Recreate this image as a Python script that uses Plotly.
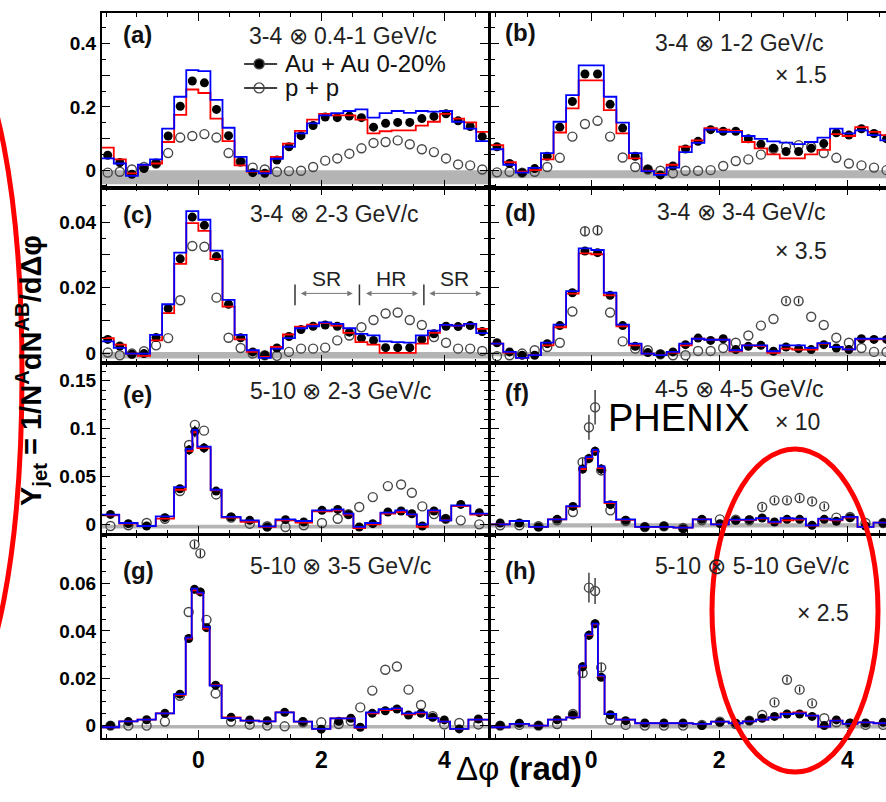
import numpy as np
import plotly.graph_objects as go

W, H = 886, 802
PI = np.pi
FONT = "Liberation Sans, Arial, Helvetica, sans-serif"

# ---------------- bin edges (rad) ----------------
edges_ad = [-PI / 2 + k * PI / 16 for k in range(33)]
edges_e = [-1.571, -1.286, -0.989, -0.692, -0.395, -0.205, -0.097, -0.016, 0.200, 0.378,
           0.686, 0.984, 1.254, 1.578, 1.849, 2.170, 2.360, 2.520, 2.710, 2.960,
           3.200, 3.390, 3.550, 3.730, 3.930, 4.110, 4.420, 4.712]
edges_fh = [-1.571, -1.274, -0.972, -0.676, -0.390, -0.182, -0.088, 0.016, 0.104, 0.208,
            0.390, 0.686, 0.988, 1.284, 1.586, 1.872, 2.148, 2.366, 2.574, 2.767,
            2.959, 3.157, 3.354, 3.547, 3.734, 3.926, 4.160, 4.410, 4.712]
edges_g = [-1.571, -1.286, -0.989, -0.692, -0.395, -0.205, -0.108, -0.016, 0.081, 0.184,
           0.378, 0.686, 0.984, 1.254, 1.551, 1.849, 2.146, 2.416, 2.540, 2.724,
           2.930, 3.146, 3.308, 3.524, 3.714, 3.903, 4.092, 4.389, 4.712]

# ---------------- (a) 3-4 x 0.4-1 GeV/c ----------------
auau_a = [0.047, 0.024, -0.013, 0.005, 0.021, 0.108, 0.202, 0.282, 0.276, 0.192, 0.109, 0.027,
          -0.008, -0.010, 0.032, 0.074, 0.109, 0.141, 0.168, 0.166, 0.171, 0.166, 0.136, 0.148,
          0.151, 0.151, 0.163, 0.170, 0.178, 0.156, 0.138, 0.106]
red_a = [0.071, 0.034, -0.010, 0.016, 0.021, 0.089, 0.175, 0.255, 0.244, 0.163, 0.092, 0.015,
         -0.005, -0.005, 0.042, 0.084, 0.124, 0.160, 0.178, 0.173, 0.173, 0.160, 0.116, 0.123,
         0.126, 0.126, 0.141, 0.153, 0.178, 0.163, 0.151, 0.121]
blue_a = [0.037, 0.021, -0.018, 0.017, 0.034, 0.131, 0.232, 0.316, 0.313, 0.222, 0.134, 0.042,
          -0.003, -0.010, 0.036, 0.074, 0.116, 0.148, 0.173, 0.180, 0.187, 0.192, 0.166, 0.180,
          0.187, 0.181, 0.187, 0.185, 0.187, 0.153, 0.131, 0.092]
pp_a = [-0.008, -0.005, 0.002, 0.010, 0.021, 0.054, 0.103, 0.108, 0.114, 0.103, 0.054, 0.027,
        0.008, 0.002, -0.005, -0.003, -0.002, 0.010, 0.030, 0.037, 0.052, 0.069, 0.086, 0.089,
        0.094, 0.082, 0.066, 0.057, 0.037, 0.018, 0.015, 0.002]

# ---------------- (b) 3-4 x 1-2 GeV/c (x1.5) ----------------
auau_b = [0.074, 0.021, -0.008, 0.005, 0.044, 0.136, 0.217, 0.304, 0.304, 0.208, 0.133, 0.044,
          0.003, -0.015, 0.013, 0.067, 0.091, 0.128, 0.123, 0.123, 0.099, 0.082, 0.069, 0.059,
          0.059, 0.069, 0.084, 0.118, 0.111, 0.131, 0.116, 0.099]
red_b = [0.079, 0.025, -0.005, 0.000, 0.034, 0.119, 0.195, 0.284, 0.284, 0.190, 0.116, 0.037,
         -0.002, -0.012, 0.017, 0.074, 0.094, 0.133, 0.128, 0.124, 0.089, 0.069, 0.050, 0.037,
         0.037, 0.050, 0.064, 0.114, 0.108, 0.136, 0.121, 0.111]
blue_b = [0.066, 0.017, -0.008, 0.007, 0.054, 0.153, 0.237, 0.331, 0.331, 0.232, 0.150, 0.054,
          -0.003, -0.015, 0.008, 0.057, 0.086, 0.128, 0.121, 0.121, 0.108, 0.099, 0.091, 0.087,
          0.082, 0.089, 0.103, 0.131, 0.116, 0.126, 0.111, 0.094]
pp_b = [-0.007, -0.005, -0.008, -0.005, 0.010, 0.039, 0.106, 0.146, 0.156, 0.106, 0.040, 0.010,
        0.002, -0.002, -0.010, -0.002, -0.002, 0.000, 0.013, 0.029, 0.034, 0.049, 0.067, 0.074,
        0.079, 0.074, 0.054, 0.039, 0.021, 0.015, 0.008, 0.000]

# ---------------- (c) 3-4 x 2-3 GeV/c ----------------
auau_c = [0.0043, 0.0023, -0.0002, 0.0000, 0.0049, 0.0137, 0.0288, 0.0415, 0.0390, 0.0295, 0.0150,
          0.0048, 0.0005, -0.0005, 0.0017, 0.0052, 0.0073, 0.0083, 0.0087, 0.0083, 0.0065, 0.0047,
          0.0040, 0.0018, 0.0018, 0.0018, 0.0043, 0.0060, 0.0083, 0.0082, 0.0085, 0.0067]
red_c = [0.0047, 0.0027, 0.0000, -0.0007, 0.0040, 0.0123, 0.0273, 0.0397, 0.0373, 0.0287, 0.0143,
         0.0043, 0.0005, -0.0010, 0.0020, 0.0058, 0.0082, 0.0088, 0.0093, 0.0085, 0.0063, 0.0035,
         0.0027, 0.0002, 0.0002, 0.0002, 0.0030, 0.0063, 0.0087, 0.0085, 0.0090, 0.0075]
blue_c = [0.0037, 0.0017, 0.0000, 0.0000, 0.0057, 0.0150, 0.0307, 0.0433, 0.0407, 0.0313, 0.0163,
          0.0057, 0.0010, -0.0013, 0.0015, 0.0047, 0.0077, 0.0083, 0.0095, 0.0090, 0.0077, 0.0060,
          0.0055, 0.0037, 0.0035, 0.0033, 0.0055, 0.0070, 0.0087, 0.0085, 0.0090, 0.0062]
pp_c = [0.0003, -0.0005, 0.0000, 0.0007, 0.0025, 0.0047, 0.0162, 0.0327, 0.0325, 0.0170, 0.0048,
        0.0017, 0.0000, -0.0005, -0.0007, 0.0005, 0.0015, 0.0015, 0.0018, 0.0040, 0.0055, 0.0080,
        0.0102, 0.0122, 0.0125, 0.0102, 0.0087, 0.0050, 0.0033, 0.0015, 0.0015, 0.0008]

# ---------------- (d) 3-4 x 3-4 GeV/c (x3.5) ----------------
auau_d = [0.0033, 0.0005, -0.0005, -0.0005, 0.0030, 0.0085, 0.0185, 0.0312, 0.0307, 0.0177, 0.0085,
          0.0022, 0.0003, -0.0002, 0.0005, 0.0027, 0.0047, 0.0040, 0.0045, 0.0012, 0.0022, 0.0025,
          0.0007, 0.0020, 0.0015, 0.0012, 0.0027, 0.0017, 0.0012, 0.0045, 0.0043, 0.0043]
red_d = [0.0030, 0.0003, -0.0013, -0.0005, 0.0025, 0.0080, 0.0182, 0.0305, 0.0302, 0.0177, 0.0083,
         0.0025, 0.0000, -0.0005, 0.0003, 0.0025, 0.0045, 0.0042, 0.0042, 0.0007, 0.0025, 0.0023,
         0.0002, 0.0015, 0.0012, 0.0012, 0.0030, 0.0020, 0.0013, 0.0043, 0.0043, 0.0043]
blue_d = [0.0030, 0.0005, -0.0013, -0.0005, 0.0033, 0.0088, 0.0190, 0.0320, 0.0315, 0.0185, 0.0088,
          0.0030, 0.0000, -0.0005, 0.0005, 0.0030, 0.0045, 0.0042, 0.0042, 0.0010, 0.0025, 0.0025,
          0.0007, 0.0025, 0.0025, 0.0017, 0.0032, 0.0020, 0.0013, 0.0045, 0.0045, 0.0045]
pp_d = [-0.0008, -0.0005, 0.0000, 0.0010, 0.0020, 0.0033, 0.0128, 0.0372, 0.0375, 0.0125, 0.0037,
        0.0015, 0.0010, -0.0002, -0.0005, -0.0005, 0.0008, 0.0008, 0.0017, 0.0033, 0.0055, 0.0085,
        0.0105, 0.0160, 0.0160, 0.0112, 0.0087, 0.0048, 0.0033, 0.0017, 0.0005, 0.0005]
pp_err_d = [0, 0, 0, 0, 0, 0, 0, 0.0015, 0.0015, 0, 0, 0, 0, 0, 0, 0, 0, 0, 0, 0, 0, 0,
            0, 0.0008, 0.0008, 0, 0, 0, 0, 0, 0, 0]

# ---------------- (e) 5-10 x 2-3 GeV/c ----------------
auau_e = [0.0107, 0.0010, -0.0014, 0.0073, 0.0374, 0.0779, 0.0970, 0.0800, 0.0350, 0.0080, 0.0045,
          -0.0024, 0.0052, 0.0028, 0.0149, 0.0159, 0.0107, -0.0024, 0.0010, 0.0132, 0.0142, 0.0114,
          -0.0014, 0.0142, 0.0062, 0.0211, 0.0125]
red_e = [0.0097, 0.0010, -0.0014, 0.0062, 0.0364, 0.0766, 0.0963, 0.0797, 0.0357, 0.0073, 0.0028,
         -0.0024, 0.0045, 0.0021, 0.0139, 0.0149, 0.0104, -0.0035, 0.0003, 0.0114, 0.0132, 0.0104,
         -0.0024, 0.0139, 0.0045, 0.0194, 0.0104]
blue_e = [0.0104, 0.0017, -0.0014, 0.0087, 0.0391, 0.0790, 0.0987, 0.0814, 0.0364, 0.0080, 0.0045,
          -0.0017, 0.0055, 0.0038, 0.0149, 0.0159, 0.0114, -0.0024, 0.0017, 0.0125, 0.0149, 0.0107,
          0.0003, 0.0149, 0.0045, 0.0201, 0.0114]
pp_e = [-0.0014, -0.0007, 0.0017, 0.0062, 0.0350, 0.0830, 0.1040, 0.0980, 0.0315, 0.0073, 0.0010,
        -0.0017, -0.0024, -0.0007, 0.0017, 0.0062, 0.0110, 0.0184, 0.0287, 0.0402, 0.0419, 0.0333,
        0.0190, 0.0110, 0.0060, 0.0045, 0.0003]
auau_err_e = [0.003, 0.003, 0.003, 0.003, 0.004, 0.005, 0.006, 0.005, 0.004, 0.003, 0.003, 0.003,
              0.003, 0.003, 0.003, 0.003, 0.003, 0.003, 0.003, 0.003, 0.003, 0.003, 0.003, 0.003,
              0.003, 0.003, 0.003]

# ---------------- (f) 4-5 x 4-5 GeV/c (x10) ----------------
auau_f = [0.0017, 0.0017, -0.0024, 0.0055, 0.0190, 0.0580, 0.0690, 0.0765, 0.0580, 0.0208, 0.0045,
          -0.0024, -0.0017, -0.0042, 0.0055, 0.0010, 0.0045, 0.0052, 0.0069, 0.0028, 0.0055, 0.0055,
          -0.0007, 0.0055, 0.0035, 0.0073, -0.0014, 0.0017]
red_f = [0.0003, 0.0038, -0.0024, 0.0055, 0.0187, 0.0580, 0.0690, 0.0765, 0.0590, 0.0225, 0.0050,
         -0.0024, -0.0024, -0.0031, 0.0055, 0.0003, 0.0048, 0.0048, 0.0062, 0.0021, 0.0045, 0.0052,
         -0.0010, 0.0055, 0.0045, 0.0073, -0.0024, 0.0021]
blue_f = [0.0003, 0.0038, -0.0024, 0.0055, 0.0194, 0.0599, 0.0703, 0.0779, 0.0606, 0.0236, 0.0055,
          -0.0024, -0.0024, -0.0031, 0.0055, 0.0003, 0.0052, 0.0052, 0.0069, 0.0028, 0.0069, 0.0062,
          -0.0007, 0.0062, 0.0052, 0.0080, -0.0024, 0.0021]
pp_f = [-0.0007, -0.0007, -0.0017, 0.0045, 0.0132, 0.0651, 0.1015, 0.1223, 0.0565, 0.0149, 0.0038,
        -0.0024, -0.0017, -0.0035, 0.0045, 0.0055, 0.0052, 0.0045, 0.0184, 0.0253, 0.0253, 0.0277,
        0.0242, 0.0190, 0.0073, 0.0080, 0.0017, 0.0017]
auau_err_f = [0.002, 0.002, 0.002, 0.002, 0.003, 0.005, 0.005, 0.005, 0.005, 0.003, 0.002, 0.002,
              0.002, 0.002, 0.002, 0.002, 0.002, 0.002, 0.002, 0.002, 0.002, 0.002, 0.002, 0.002,
              0.002, 0.002, 0.002, 0.002]
pp_err_f = [0, 0, 0, 0, 0, 0.004, 0.013, 0.018, 0.004, 0, 0, 0, 0, 0, 0, 0, 0, 0,
            0.003, 0.003, 0.003, 0.003, 0.003, 0.003, 0, 0, 0, 0]

# ---------------- (g) 5-10 x 3-5 GeV/c ----------------
auau_g = [0.0000, 0.0017, 0.0025, 0.0052, 0.0133, 0.0368, 0.0576, 0.0565, 0.0414, 0.0171, 0.0035,
          0.0024, 0.0021, 0.0056, 0.0017, -0.0015, 0.0018, 0.0031, -0.0007, 0.0052, 0.0063, 0.0070,
          0.0045, 0.0052, 0.0035, 0.0024, -0.0014, 0.0028]
red_g = [-0.0007, 0.0018, 0.0025, 0.0052, 0.0130, 0.0368, 0.0572, 0.0558, 0.0410, 0.0171, 0.0035,
         0.0021, 0.0018, 0.0056, 0.0017, -0.0014, 0.0031, 0.0031, -0.0009, 0.0052, 0.0066, 0.0070,
         0.0048, 0.0052, 0.0032, 0.0017, -0.0014, 0.0025]
blue_g = [-0.0007, 0.0018, 0.0025, 0.0052, 0.0133, 0.0372, 0.0579, 0.0562, 0.0417, 0.0169, 0.0032,
          0.0021, 0.0018, 0.0056, 0.0017, -0.0014, 0.0031, 0.0031, -0.0007, 0.0056, 0.0070, 0.0073,
          0.0052, 0.0056, 0.0032, 0.0017, -0.0014, 0.0025]
pp_g = [0.0000, 0.0000, 0.0000, 0.0017, 0.0126, 0.0480, 0.0766, 0.0728, 0.0447, 0.0136, 0.0017,
        0.0004, 0.0000, -0.0003, 0.0014, 0.0014, 0.0007, 0.0020, 0.0077, 0.0148, 0.0236, 0.0250,
        0.0152, 0.0087, 0.0040, 0.0005, 0.0011, 0.0005]
auau_err_g = [0.0012, 0.0012, 0.0012, 0.0012, 0.0012, 0.0015, 0.0018, 0.0018, 0.0015, 0.0012,
              0.0012, 0.0012, 0.0012, 0.0012, 0.0012, 0.0012, 0.0012, 0.0012, 0.0012, 0.0012,
              0.0012, 0.0012, 0.0012, 0.0012, 0.0012, 0.0012, 0.0012, 0.0012]
pp_err_g = [0, 0, 0, 0, 0, 0, 0.0015, 0.0015, 0, 0, 0, 0, 0, 0, 0, 0, 0, 0, 0, 0, 0, 0,
            0, 0, 0, 0, 0, 0]

# ---------------- (h) 5-10 x 5-10 GeV/c (x2.5) ----------------
auau_h = [0.0000, 0.0010, 0.0000, 0.0025, 0.0045, 0.0249, 0.0382, 0.0431, 0.0204, 0.0046, 0.0021,
          0.0011, 0.0011, 0.0011, 0.0000, 0.0014, 0.0010, 0.0021, 0.0031, 0.0039, 0.0049, 0.0049,
          0.0039, 0.0000, 0.0024, 0.0011, 0.0011, 0.0014]
red_h = [-0.0007, 0.0007, 0.0000, 0.0025, 0.0035, 0.0249, 0.0382, 0.0428, 0.0208, 0.0049, 0.0025,
         0.0010, 0.0010, 0.0010, 0.0007, 0.0017, 0.0010, 0.0018, 0.0025, 0.0035, 0.0052, 0.0056,
         0.0042, -0.0004, 0.0021, 0.0007, 0.0014, 0.0010]
blue_h = [-0.0007, 0.0007, 0.0000, 0.0025, 0.0035, 0.0253, 0.0386, 0.0431, 0.0211, 0.0049, 0.0025,
          0.0010, 0.0010, 0.0010, 0.0007, 0.0017, 0.0010, 0.0018, 0.0025, 0.0035, 0.0049, 0.0052,
          0.0042, -0.0004, 0.0021, 0.0007, 0.0014, 0.0010]
pp_h = [0.0000, 0.0003, 0.0000, 0.0007, 0.0049, 0.0222, 0.0583, 0.0569, 0.0246, 0.0025, 0.0003,
        0.0000, 0.0000, 0.0000, 0.0003, 0.0017, 0.0007, 0.0021, 0.0045, 0.0098, 0.0194, 0.0152,
        0.0094, 0.0031, 0.0014, 0.0007, 0.0003, 0.0003]
auau_err_h = [0.0012, 0.0012, 0.0012, 0.0012, 0.0012, 0.0020, 0.0020, 0.0020, 0.0015, 0.0012,
              0.0012, 0.0012, 0.0012, 0.0012, 0.0012, 0.0012, 0.0012, 0.0012, 0.0012, 0.0012,
              0.0012, 0.0012, 0.0012, 0.0012, 0.0012, 0.0012, 0.0012, 0.0012]
pp_err_h = [0, 0, 0, 0, 0, 0.002, 0.0063, 0.0055, 0.002, 0, 0, 0, 0, 0, 0, 0, 0, 0,
            0, 0.0012, 0.0012, 0.0012, 0.0012, 0, 0, 0, 0, 0]

# normalisation bands (lo, hi) per panel
bands = {"a": (-0.045, 0.0), "b": (-0.026, 0.0), "c": (-0.0015, 0.0005), "d": (-0.0008, 0.0005),
         "e": (-0.004, 0.0), "f": (-0.003, 0.0015), "g": (-0.0012, 0.0003), "h": (-0.0012, 0.0003)}

panels = [
    dict(key="a", row=0, col=0, edges=edges_ad, auau=auau_a, red=red_a, blue=blue_a, pp=pp_a,
         title="3-4 ⊗ 0.4-1 GeV/c", scale=None),
    dict(key="b", row=0, col=1, edges=edges_ad, auau=auau_b, red=red_b, blue=blue_b, pp=pp_b,
         title="3-4 ⊗ 1-2 GeV/c", scale="× 1.5"),
    dict(key="c", row=1, col=0, edges=edges_ad, auau=auau_c, red=red_c, blue=blue_c, pp=pp_c,
         title="3-4 ⊗ 2-3 GeV/c", scale=None),
    dict(key="d", row=1, col=1, edges=edges_ad, auau=auau_d, red=red_d, blue=blue_d, pp=pp_d,
         pp_err=pp_err_d, title="3-4 ⊗ 3-4 GeV/c", scale="× 3.5"),
    dict(key="e", row=2, col=0, edges=edges_e, auau=auau_e, red=red_e, blue=blue_e, pp=pp_e,
         auau_err=auau_err_e, title="5-10 ⊗ 2-3 GeV/c", scale=None),
    dict(key="f", row=2, col=1, edges=edges_fh, auau=auau_f, red=red_f, blue=blue_f, pp=pp_f,
         auau_err=auau_err_f, pp_err=pp_err_f, title="4-5 ⊗ 4-5 GeV/c", scale="× 10"),
    dict(key="g", row=3, col=0, edges=edges_g, auau=auau_g, red=red_g, blue=blue_g, pp=pp_g,
         auau_err=auau_err_g, pp_err=pp_err_g, title="5-10 ⊗ 3-5 GeV/c", scale=None),
    dict(key="h", row=3, col=1, edges=edges_fh, auau=auau_h, red=red_h, blue=blue_h, pp=pp_h,
         auau_err=auau_err_h, pp_err=pp_err_h, title="5-10 ⊗ 5-10 GeV/c", scale="× 2.5"),
]

# ---------------- geometry (pixels) ----------------
row_px = [(13, 188), (188, 364), (364, 535), (536, 740)]
row_ranges = [(-0.055, 0.497), (-0.0029, 0.0505), (-0.0094, 0.1684), (-0.0053, 0.0807)]
row_ticks = [[0, 0.1, 0.2, 0.3, 0.4], [0, 0.01, 0.02, 0.03, 0.04], [0, 0.05, 0.1, 0.15], [0, 0.02, 0.04, 0.06]]
row_ticktext = [["0", "", "0.2", "", "0.4"], ["0", "", "0.02", "", "0.04"],
                ["0", "0.05", "0.1", "0.15"], ["0", "0.02", "0.04", "0.06"]]
row_minor = [0.05, 0.005, 0.01, 0.005]
col_px = [(101.7, 488.3), (490.7, 886.0)]
col_ranges = [(-PI / 2, 3 * PI / 2), (-PI / 2, 4.605)]

# text placement (pixel anchors)
letter_pos = {"a": (121, 35), "b": (503, 33), "c": (121, 215), "d": (503, 213),
              "e": (121, 395), "f": (503, 393), "g": (121, 572), "h": (503, 572)}
title_pos = {"a": (247, 36), "b": (653, 43), "c": (248, 215), "d": (655, 213),
             "e": (248, 392), "f": (653, 390), "g": (248, 567), "h": (653, 567)}
scale_pos = {"b": (773, 75), "d": (773, 252), "f": (773, 423), "h": (795, 615)}


def centers(edges):
    return [(edges[k] + edges[k + 1]) / 2 for k in range(len(edges) - 1)]


def px_to_paper(px, py):
    return px / W, 1 - py / H


fig = go.Figure()
annotations = []
shapes = []
layout_axes = {}

for n, p in enumerate(panels, start=1):
    xa = "x" if n == 1 else f"x{n}"
    ya = "y" if n == 1 else f"y{n}"
    xc = centers(p["edges"])
    lo, hi = bands[p["key"]]
    shapes.append(dict(type="rect", xref=xa, yref=ya, x0=-PI / 2, x1=3 * PI / 2, y0=lo, y1=hi,
                       fillcolor="#b4b4b4", line=dict(width=0), layer="below"))

    pp_err = p.get("pp_err")
    fig.add_trace(go.Scatter(
        x=xc, y=p["pp"], mode="markers", xaxis=xa, yaxis=ya, showlegend=False,
        marker=dict(symbol="circle-open", size=9, color="#484848", line=dict(width=1.4)),
        error_y=dict(type="data", array=pp_err, color="#222", thickness=1.3, width=0,
                     visible=pp_err is not None)))
    au_err = p.get("auau_err")
    fig.add_trace(go.Scatter(
        x=xc, y=p["auau"], mode="markers", xaxis=xa, yaxis=ya, showlegend=False,
        marker=dict(symbol="circle", size=9, color="black"),
        error_y=dict(type="data", array=au_err, color="black", thickness=1.4, width=0,
                     visible=au_err is not None)))
    for vals, colr in ((p["red"], "#ff0000"), (p["blue"], "#0000ff")):
        fig.add_trace(go.Scatter(
            x=p["edges"], y=list(vals) + [vals[-1]], mode="lines", xaxis=xa, yaxis=ya,
            showlegend=False, line=dict(color=colr, width=1.8, shape="hv")))

    r, c = p["row"], p["col"]
    top, bot = row_px[r]
    left, right = col_px[c]
    xk = "xaxis" if n == 1 else f"xaxis{n}"
    yk = "yaxis" if n == 1 else f"yaxis{n}"
    layout_axes[xk] = dict(
        domain=[left / W, right / W], range=list(col_ranges[c]), anchor=ya,
        showline=True, linecolor="black", linewidth=1.5, mirror="ticks",
        showgrid=False, zeroline=False,
        tickmode="array", tickvals=[0, 2, 4], ticktext=["0", "2", "4"],
        ticks="inside", ticklen=8, tickwidth=1.3, tickcolor="black",
        minor=dict(ticks="inside", dtick=0.5, tick0=0, ticklen=4, tickwidth=1.1, tickcolor="black"),
        showticklabels=(r == 3),
        tickfont=dict(family=FONT, size=23, color="black", weight="bold"))
    layout_axes[yk] = dict(
        domain=[1 - bot / H, 1 - top / H], range=list(row_ranges[r]), anchor=xa,
        showline=True, linecolor="black", linewidth=1.5, mirror=("ticks" if c == 0 else False),
        showgrid=False, zeroline=False,
        tickmode="array", tickvals=row_ticks[r], ticktext=row_ticktext[r],
        ticks="inside", ticklen=9, tickwidth=1.3, tickcolor="black",
        minor=dict(ticks="inside", dtick=row_minor[r], tick0=0, ticklen=5, tickwidth=1.1,
                   tickcolor="black"),
        showticklabels=(c == 0),
        tickfont=dict(family=FONT, size=19, color="black", weight="bold"))

    # panel letter, momentum bins, scale factor
    lx, ly = px_to_paper(*letter_pos[p["key"]])
    annotations.append(dict(text=f"<b>({p['key']})</b>", x=lx, y=ly, xref="paper", yref="paper",
                            xanchor="left", yanchor="middle", showarrow=False,
                            font=dict(family=FONT, size=24, color="#111")))
    tx, ty = px_to_paper(*title_pos[p["key"]])
    annotations.append(dict(text=p["title"], x=tx, y=ty, xref="paper", yref="paper",
                            xanchor="left", yanchor="middle", showarrow=False,
                            font=dict(family=FONT, size=23, color="#222")))
    if p["scale"]:
        sx, sy = px_to_paper(*scale_pos[p["key"]])
        annotations.append(dict(text=p["scale"], x=sx, y=sy, xref="paper", yref="paper",
                                xanchor="left", yanchor="middle", showarrow=False,
                                font=dict(family=FONT, size=23, color="#222")))

# ---------------- legend inside (a) ----------------
legend_rows = [("Au + Au 0-20%", 0.336, "circle", "black"), ("p + p", 0.260, "circle-open", "#484848")]
for label, yv, sym, colr in legend_rows:
    fig.add_trace(go.Scatter(x=[0.744, 1.28], y=[yv, yv], mode="lines", xaxis="x", yaxis="y",
                             showlegend=False, line=dict(color="black", width=1.5)))
    fig.add_trace(go.Scatter(x=[0.988], y=[yv], mode="markers", xaxis="x", yaxis="y",
                             showlegend=False,
                             marker=dict(symbol=sym, size=10, color=colr, line=dict(width=1.4))))
    annotations.append(dict(text=label, x=1.38, y=yv, xref="x", yref="y", xanchor="left",
                            yanchor="middle", showarrow=False,
                            font=dict(family=FONT, size=24, color="#111")))

# ---------------- SR / HR regions in (c) ----------------
region_bounds = [PI / 2, 5 * PI / 6, 7 * PI / 6]
for xb in region_bounds:
    shapes.append(dict(type="line", xref="x3", yref="y3", x0=xb, x1=xb, y0=0.0147, y1=0.0210,
                       line=dict(color="#333", width=1.5)))
region_arrows = [("SR", 1.64, 2.51), ("HR", 2.70, 3.57), ("SR", 3.73, 4.60)]
for name, xa0, xa1 in region_arrows:
    annotations.append(dict(x=xa1, y=0.0183, ax=xa0, ay=0.0183, xref="x3", yref="y3",
                            axref="x3", ayref="y3", text="", showarrow=True,
                            arrowhead=2, arrowside="end+start", arrowsize=1.1, arrowwidth=1,
                            arrowcolor="#777", standoff=0, startstandoff=0))
    annotations.append(dict(text=name, x=(xa0 + xa1) / 2, y=0.0229, xref="x3", yref="y3",
                            xanchor="center", yanchor="middle", showarrow=False,
                            font=dict(family=FONT, size=21, color="#222")))

# ---------------- axis titles ----------------
ttx, tty = px_to_paper(31, 372)
annotations.append(dict(text="<b>Y<sub>jet</sub> = 1/N<sup>A</sup>dN<sup>AB</sup>/dΔφ</b>",
                        x=ttx, y=tty, xref="paper", yref="paper", textangle=-90,
                        xanchor="center", yanchor="middle", showarrow=False,
                        font=dict(family=FONT, size=29, color="black")))
bx, by = px_to_paper(519, 770)
annotations.append(dict(text="Δφ <b>(rad)</b>", x=bx, y=by, xref="paper", yref="paper",
                        xanchor="center", yanchor="middle", showarrow=False,
                        font=dict(family=FONT, size=33, color="black")))

# ---------------- overlay marks ----------------
phx, phy = px_to_paper(678, 419)
annotations.append(dict(text="PHENIX", x=phx, y=phy, xref="paper", yref="paper",
                        xanchor="center", yanchor="middle", showarrow=False,
                        font=dict(family=FONT, size=38, color="black")))

ellipses = [(-40, 374, 62, 322), (795, 612, 83, 162)]  # centre x, centre y, semi-axes (px)
for cx, cy, ra, rb in ellipses:
    x0, y1 = px_to_paper(cx - ra, cy - rb)
    x1, y0 = px_to_paper(cx + ra, cy + rb)
    shapes.append(dict(type="circle", xref="paper", yref="paper", x0=x0, x1=x1, y0=y0, y1=y1,
                       line=dict(color="#ff0000", width=5), fillcolor="rgba(0,0,0,0)",
                       layer="above"))

fig.update_layout(
    width=W, height=H, margin=dict(l=0, r=0, t=0, b=0),
    paper_bgcolor="white", plot_bgcolor="white",
    font=dict(family=FONT, color="black"),
    annotations=annotations, shapes=shapes, showlegend=False,
    **layout_axes,
)

fig.write_html("out.html")
